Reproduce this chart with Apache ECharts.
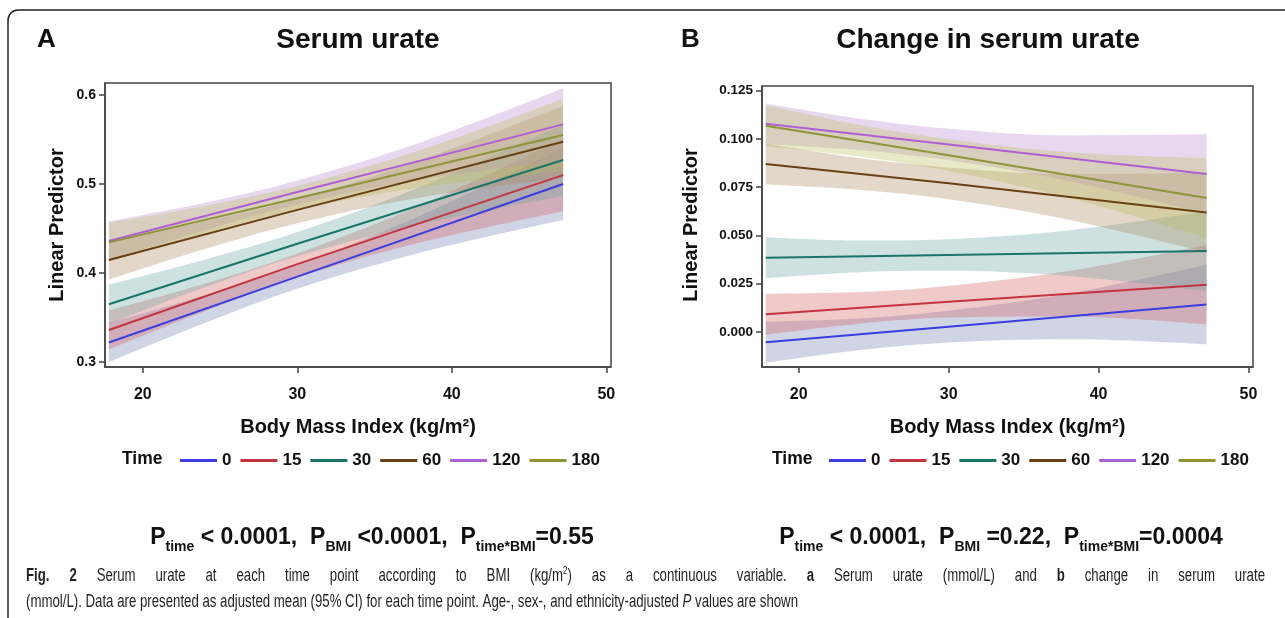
<!DOCTYPE html>
<html><head><meta charset="utf-8">
<script src="https://cdn.jsdelivr.net/npm/echarts@6/dist/echarts.min.js"></script>
<style>html,body{margin:0;padding:0;background:#fff}#c{width:1285px;height:618px}</style>
</head><body><div id="c"></div>
<script>
// ---------- data ----------
const timeNames = ['0', '15', '30', '60', '120', '180'];
const bmiLine = [17.8, 30, 47.2];
const bmiBand = [17.8, 24, 30, 38, 47.2];
const xTicks = [20, 30, 40, 50];
const urateTicks = [0.3, 0.4, 0.5, 0.6];
const changeTicks = [0, 0.025, 0.05, 0.075, 0.1, 0.125];

// Panel A: serum urate (rows follow timeNames)
const urateMean = [
  [0.322, 0.396, 0.500],
  [0.336, 0.410, 0.510],
  [0.365, 0.433, 0.527],
  [0.4146, 0.471, 0.5475],
  [0.436, 0.491, 0.567],
  [0.4345, 0.484, 0.555]
];
const urateLower = [
  [0.300, 0.344, 0.3825, 0.423, 0.4595],
  [0.314, 0.357, 0.395, 0.4345, 0.4695],
  [0.343, 0.384, 0.419, 0.455, 0.4865],
  [0.3926, 0.427, 0.456, 0.485, 0.507],
  [0.414, 0.448, 0.477, 0.505, 0.5265],
  [0.4125, 0.4444, 0.471, 0.4963, 0.5145]
];
const urateUpper = [
  [0.344, 0.375, 0.409, 0.465, 0.5405],
  [0.358, 0.388, 0.422, 0.4765, 0.5505],
  [0.387, 0.415, 0.446, 0.497, 0.5675],
  [0.4366, 0.458, 0.483, 0.527, 0.588],
  [0.458, 0.479, 0.504, 0.547, 0.6075],
  [0.4565, 0.4754, 0.498, 0.5383, 0.5955]
];

// Panel B: change in serum urate
const changeMean = [
  [-0.0053, 0.0028, 0.0143],
  [0.0092, 0.0157, 0.0245],
  [0.0385, 0.0399, 0.0419],
  [0.0870, 0.0770, 0.0619],
  [0.1078, 0.0971, 0.0818],
  [0.1068, 0.0916, 0.0694]
];
const changeLower = [
  [-0.0159, -0.0094, -0.0054, -0.0037, -0.0063],
  [-0.0014, 0.0043, 0.0075, 0.0080, 0.0039],
  [0.0279, 0.0310, 0.0317, 0.0290, 0.0213],
  [0.0764, 0.0737, 0.0688, 0.0582, 0.0413],
  [0.0972, 0.0942, 0.0889, 0.0782, 0.0612],
  [0.0962, 0.0909, 0.0834, 0.0695, 0.0488]
];
const changeUpper = [
  [0.0053, 0.0070, 0.0110, 0.0199, 0.0349],
  [0.0198, 0.0207, 0.0239, 0.0316, 0.0451],
  [0.0491, 0.0474, 0.0481, 0.0526, 0.0625],
  [0.0976, 0.0901, 0.0852, 0.0818, 0.0825],
  [0.1184, 0.1106, 0.1053, 0.1018, 0.1024],
  [0.1174, 0.1073, 0.0998, 0.0931, 0.0900]
];

// ---------- styling ----------
const lineColors = ['#3b3de0', '#c4343f', '#1a7468', '#6a3f12', '#b05fd3', '#8e9439'];
const bandColors = ['#6f7eb3', '#d05b5b', '#66a5a0', '#a9865b', '#b689cd', '#babc5c'];
const FONT = "'Liberation Sans', Arial, sans-serif";
const AX = '#444';

function bands(gi, lo, hi, key) {
  const out = [];
  for (let i = 0; i < timeNames.length; i++) {
    // stored as [value, bmi] so that the value dimension is the stacked one
    out.push({
      type: 'line', xAxisIndex: gi, yAxisIndex: gi, name: key + 'lo' + i,
      stack: key + i, stackStrategy: 'all', silent: true, symbol: 'none', smooth: 0.35,
      encode: { x: 1, y: 0 }, lineStyle: { opacity: 0 }, z: 1,
      data: bmiBand.map((x, j) => [lo[i][j], x])
    });
    out.push({
      type: 'line', xAxisIndex: gi, yAxisIndex: gi, name: key + 'hi' + i,
      stack: key + i, stackStrategy: 'all', silent: true, symbol: 'none', smooth: 0.35,
      encode: { x: 1, y: 0 }, lineStyle: { opacity: 0 }, z: 1,
      areaStyle: { color: bandColors[i], opacity: 0.33 },
      data: bmiBand.map((x, j) => [hi[i][j] - lo[i][j], x])
    });
  }
  return out;
}
function lines(gi, mean) {
  return timeNames.map((n, i) => ({
    type: 'line', xAxisIndex: gi, yAxisIndex: gi, name: n, symbol: 'none', z: 3,
    lineStyle: { color: lineColors[i], width: 2 }, itemStyle: { color: lineColors[i] },
    data: bmiLine.map((x, j) => [x, mean[i][j]])
  }));
}
function xAxis(gi) {
  return {
    gridIndex: gi, type: 'value', min: 17.55, max: 50.3,
    axisLine: { show: true, onZero: false, lineStyle: { color: AX, width: 1.5 } },
    axisTick: { show: true, customValues: xTicks, length: 6, lineStyle: { color: AX, width: 1.5 } },
    axisLabel: { customValues: xTicks, margin: 20, fontSize: 16, fontWeight: 'bold', color: '#111', fontFamily: FONT },
    splitLine: { show: false },
    name: 'Body Mass Index (kg/m²)', nameLocation: 'middle', nameGap: 50,
    nameTextStyle: { fontSize: 20, fontWeight: 'bold', color: '#111', fontFamily: FONT }
  };
}
function yAxis(gi, min, max, ticks, dec, fs) {
  return {
    gridIndex: gi, type: 'value', min: min, max: max,
    axisLine: { show: true, onZero: false, lineStyle: { color: AX, width: 1.5 } },
    axisTick: { show: true, customValues: ticks, length: 6, lineStyle: { color: AX, width: 1.5 } },
    axisLabel: { customValues: ticks, margin: 9, fontSize: fs, fontWeight: 'bold', color: '#111', fontFamily: FONT,
      formatter: v => Number(v).toFixed(dec) },
    splitLine: { show: false }
  };
}
function legend(left) {
  return {
    data: timeNames, left: left, top: 452, padding: 0, orient: 'horizontal', icon: 'rect',
    itemWidth: 37, itemHeight: 3, itemGap: 9, selectedMode: false,
    textStyle: { fontSize: 17, fontWeight: 'bold', color: '#111', fontFamily: FONT }
  };
}
function txt(x, y, text, size, align, extra) {
  return Object.assign({ type: 'text', x: x, y: y, silent: true,
    style: { text: text, fill: '#111', font: 'bold ' + size + 'px ' + FONT, align: align || 'left', verticalAlign: 'middle' } }, extra || {});
}
function pText(x, y, text) {
  return { type: 'text', x: x, y: y, silent: true,
    style: { text: text, align: 'center', verticalAlign: 'middle', fill: '#111',
      rich: {
        p: { fontSize: 23, fontWeight: 'bold', fontFamily: FONT, lineHeight: 32, verticalAlign: 'middle', fill: '#111' },
        s: { fontSize: 14, fontWeight: 'bold', fontFamily: FONT, lineHeight: 17, verticalAlign: 'bottom', fill: '#111' }
      } } };
}

// ---------- caption (justified first line, condensed by horizontal scaling) ----------
const CAP = 18;
const CAPC = '#231f20';
const capRich = {
  n: { fontSize: CAP, fontFamily: FONT, lineHeight: 22, verticalAlign: 'middle', fill: CAPC },
  b: { fontSize: CAP, fontFamily: FONT, fontWeight: 'bold', lineHeight: 22, verticalAlign: 'middle', fill: CAPC },
  i: { fontSize: CAP, fontFamily: FONT, fontStyle: 'italic', lineHeight: 22, verticalAlign: 'middle', fill: CAPC },
  sup: { fontSize: 11, fontFamily: FONT, lineHeight: 12, verticalAlign: 'top', fill: CAPC }
};
const cap1 = [['b', 'Fig. 2'], ['n', ' Serum urate at each time point according to BMI (kg/m'], ['sup', '2'],
  ['n', ') as a continuous variable. '], ['b', 'a'], ['n', ' Serum urate (mmol/L) and '], ['b', 'b'], ['n', ' change in serum urate']];
const cap2 = [['n', '(mmol/L). Data are presented as adjusted mean (95% CI) for each time point. Age-, sex-, and ethnicity-adjusted '],
  ['i', 'P'], ['n', ' values are shown']];
const mctx = document.createElement('canvas').getContext('2d');
function measure(k, t) {
  const s = capRich[k];
  mctx.font = (s.fontStyle || 'normal') + ' ' + (s.fontWeight || 'normal') + ' ' + s.fontSize + 'px ' + s.fontFamily;
  return mctx.measureText(t).width;
}
const cap2W = cap2.reduce((w, [k, t]) => w + measure(k, t), 0);
const capScale = 772 / cap2W;                       // last line ends near x = 798
const cap1Tokens = [];
cap1.forEach(([k, t]) => t.split(' ').forEach((p, idx) => {
  if (idx > 0) cap1Tokens.push(['sp', ' ']);
  if (p) cap1Tokens.push([k, p]);
}));
let cap1Content = 0, cap1Spaces = 0;
cap1Tokens.forEach(([k, t]) => { if (k === 'sp') cap1Spaces++; else cap1Content += measure(k, t); });
const spaceW = (1239 / capScale - cap1Content) / cap1Spaces;   // first line justified to x = 1265
const cap1Rich = Object.assign({}, capRich, { sp: Object.assign({}, capRich.n, { width: spaceW }) });
const richStr = parts => parts.map(([k, t]) => '{' + k + '|' + t + '}').join('');

const chart = echarts.init(document.getElementById('c'));
chart.setOption({
  animation: false,
  backgroundColor: '#fff',
  grid: [
    { left: 105, top: 83, width: 506, height: 284, show: true, borderColor: AX, borderWidth: 1.5 },
    { left: 762, top: 86, width: 491, height: 281, show: true, borderColor: AX, borderWidth: 1.5 }
  ],
  xAxis: [xAxis(0), xAxis(1)],
  yAxis: [
    yAxis(0, 0.2945, 0.6135, urateTicks, 1, 14),
    yAxis(1, -0.0181, 0.1274, changeTicks, 3, 13.5)
  ],
  legend: [legend(180), legend(829)],
  series: [].concat(
    bands(0, urateLower, urateUpper, 'a'),
    bands(1, changeLower, changeUpper, 'b'),
    lines(0, urateMean),
    lines(1, changeMean)
  ),
  graphic: [
    { type: 'rect', silent: true, shape: { x: 8, y: 10, width: 1300, height: 614, r: [10, 0, 0, 6] },
      style: { fill: 'none', stroke: '#222', lineWidth: 1.5 } },
    txt(37, 40, 'A', 26),
    txt(358, 40, 'Serum urate', 28, 'center'),
    txt(681, 40, 'B', 26),
    txt(988, 40, 'Change in serum urate', 28, 'center'),
    txt(57, 225, 'Linear Predictor', 20, 'center', { rotation: Math.PI / 2 }),
    txt(691, 225, 'Linear Predictor', 20, 'center', { rotation: Math.PI / 2 }),
    txt(122, 459, 'Time', 17.5),
    txt(772, 459, 'Time', 17.5),
    pText(372, 538, '{p|P}{s|time}{p| < 0.0001,  P}{s|BMI}{p| <0.0001,  P}{s|time*BMI}{p|=0.55}'),
    pText(1001, 538, '{p|P}{s|time}{p| < 0.0001,  P}{s|BMI}{p| =0.22,  P}{s|time*BMI}{p|=0.0004}'),
    { type: 'text', x: 26, y: 576, scaleX: capScale, silent: true,
      style: { verticalAlign: 'middle', align: 'left', rich: cap1Rich, text: richStr(cap1Tokens) } },
    { type: 'text', x: 26, y: 602, scaleX: capScale, silent: true,
      style: { verticalAlign: 'middle', align: 'left', rich: capRich, text: richStr(cap2) } }
  ]
});
</script></body></html>
